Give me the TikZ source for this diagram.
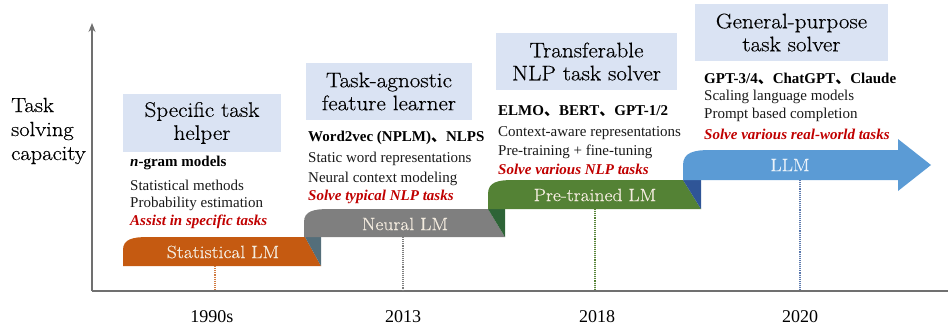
\documentclass[tikz,border=0pt]{standalone}
\usepackage{fontspec}
\newfontfamily\tnr{Liberation Serif}
\newfontfamily\cjk{Noto Sans CJK SC}
\newfontfamily\wide[FakeStretch=1.1,FakeBold=0.4]{Latin Modern Roman}
\usetikzlibrary{arrows.meta}
\definecolor{hdr}{HTML}{DAE3F3}
\definecolor{cOrange}{HTML}{C55A11}
\definecolor{cGray}{HTML}{7F7F7F}
\definecolor{cGreen}{HTML}{548235}
\definecolor{cBlue}{HTML}{5B9BD5}
\definecolor{dSlate}{HTML}{546E7A}
\definecolor{dGreen}{HTML}{2E6437}
\definecolor{dBlue}{HTML}{2F5597}
\definecolor{cRed}{HTML}{C00000}
\definecolor{axisgray}{HTML}{707070}
\definecolor{bandtxt}{HTML}{F4ECDF}
\begin{document}
\begin{tikzpicture}[x=1pt,y=-1pt,
  hdrbox/.style={fill=hdr, align=center, inner sep=0pt, font=\wide\fontsize{21}{23}\selectfont},
  body/.style={anchor=west, inner sep=0pt, font=\tnr\fontsize{15}{19}\selectfont, text=black!90},
  bodybold/.style={body, font=\tnr\bfseries\fontsize{15}{19}\selectfont, text=black},
  bodyred/.style={body, font=\tnr\bfseries\itshape\fontsize{15}{19}\selectfont, text=cRed},
  bandlabel/.style={inner sep=0pt, font=\wide\fontsize{17.8}{20}\selectfont, text=bandtxt},
  yearlabel/.style={inner sep=0pt, font=\tnr\fontsize{18}{20}\selectfont},
  dotline/.style={line width=1.1pt, densely dotted},
  axisline/.style={draw=axisgray, line width=1.2pt}
]
\useasboundingbox (0,0) rectangle (948,329);

% axes
\coordinate (origin) at (92,291);
\coordinate (ytop) at (92,23);
\coordinate (xend) at (948,291);
\draw[axisline, -{Stealth[length=9pt,width=7pt]}] (origin) -- (ytop);
\draw[axisline] (origin) -- (xend);

% y label
\node[anchor=west, align=left, inner sep=0pt, font=\wide\fontsize{20.5}{24}\selectfont] (ylab) at (11,131) {Task\\solving\\capacity};

% bands
\fill[cOrange] (123,266) -- (123,250) .. controls (123,239) and (133,237) .. (148,237) -- (305,237) -- (321,266) -- cycle;
\fill[dSlate] (305,237) -- (321,237) -- (321,266) -- cycle;
\fill[cGray] (304,237) -- (304,222) .. controls (304,211) and (314,209) .. (329,209) -- (488,209) -- (505,237) -- cycle;
\fill[dGreen] (488,209) -- (505,209) -- (505,237) -- cycle;
\fill[cGreen] (488,209) -- (488,194) .. controls (488,182) and (498,180) .. (513,180) -- (683,180) -- (701,209) -- cycle;
\fill[dBlue] (683,180) -- (701,180) -- (701,209) -- cycle;
\fill[cBlue] (683,180) -- (683,165) .. controls (683,152) and (695,150) .. (710,150) -- (898,150) -- (898,139) -- (931,165) -- (898,191) -- (898,180) -- cycle;

\node[bandlabel] (b1) at (223,252) {Statistical LM};
\node[bandlabel] (b2) at (405,224) {Neural LM};
\node[bandlabel] (b3) at (595,195) {Pre-trained LM};
\node[bandlabel, text=white!88!cBlue] (b4) at (790,165) {LLM};

% dotted year lines
\coordinate (d1t) at (215,266); \coordinate (d1b) at (215,290);
\coordinate (d2t) at (403,237); \coordinate (d2b) at (403,290);
\coordinate (d3t) at (595,209); \coordinate (d3b) at (595,290);
\coordinate (d4t) at (800,180); \coordinate (d4b) at (800,290);
\draw[dotline, draw=cOrange!80] (d1t) -- (d1b);
\draw[dotline, draw=cGray] (d2t) -- (d2b);
\draw[dotline, draw=cGreen] (d3t) -- (d3b);
\draw[dotline, draw=dBlue!80] (d4t) -- (d4b);

\node[yearlabel] (y1) at (212,317) {1990s};
\node[yearlabel] (y2) at (403,317) {2013};
\node[yearlabel] (y3) at (597,317) {2018};
\node[yearlabel] (y4) at (800,317) {2020};

% header boxes
\node[hdrbox, minimum width=158pt, minimum height=58pt] (h1) at (202,123) {Specific task\\helper};
\node[hdrbox, minimum width=166pt, minimum height=57pt] (h2) at (389,91.5) {Task-agnostic\\feature learner};
\node[hdrbox, minimum width=181pt, minimum height=57pt] (h3) at (586.5,61.5) {Transferable\\NLP task solver};
\node[hdrbox, minimum width=193pt, minimum height=57pt] (h4) at (791.5,32.5) {General-purpose\\task solver};

% text blocks
\node[bodybold] (s1) at (130,163) {\itshape n\upshape-gram models};
\node[body] (s2) at (130,185) {Statistical methods};
\node[body] (s3) at (130,204) {Probability estimation};
\node[bodyred] (s4) at (130,222) {Assist in specific tasks};

\node[bodybold] (n1) at (308,138) {Word2vec (NPLM){\cjk 、}NLPS};
\node[body] (n2) at (308,159) {Static word representations};
\node[body] (n3) at (308,179) {Neural context modeling};
\node[bodyred] (n4) at (308,197) {Solve typical NLP tasks};

\node[bodybold] (p1) at (498,111) {ELMO{\cjk 、}BERT{\cjk 、}GPT-1/2};
\node[body] (p2) at (498,133) {Context-aware representations};
\node[body] (p3) at (498,152) {Pre-training + fine-tuning};
\node[bodyred] (p4) at (498,169) {Solve various NLP tasks};

\node[bodybold] (l1) at (704,79) {GPT-3/4{\cjk 、}ChatGPT{\cjk 、}Claude};
\node[body] (l2) at (704,97) {Scaling language models};
\node[body] (l3) at (704,115) {Prompt based completion};
\node[bodyred] (l4) at (704,134) {Solve various real-world tasks};
\end{tikzpicture}
\end{document}
